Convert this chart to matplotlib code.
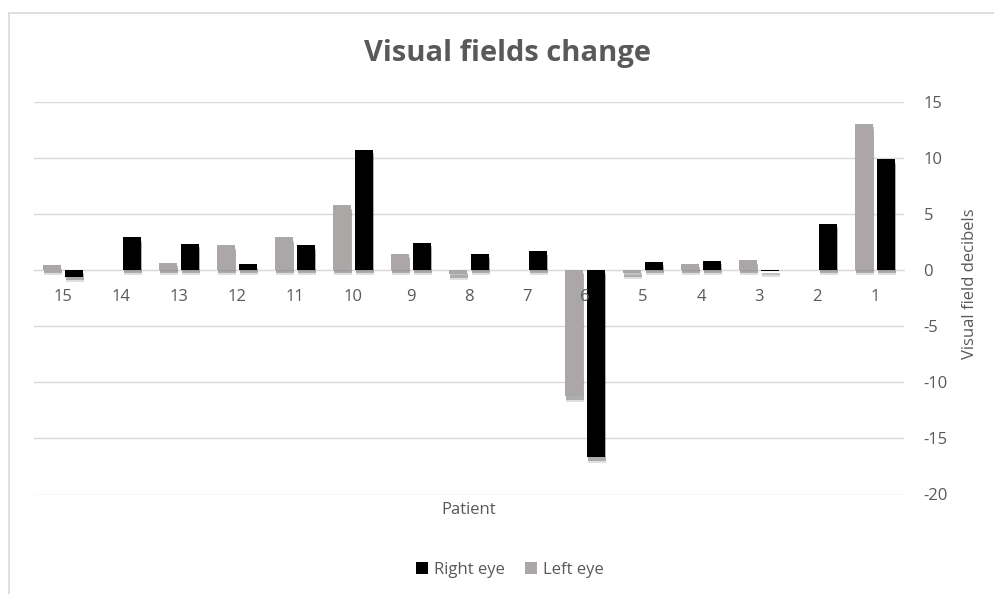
import numpy as np
import matplotlib
matplotlib.use("Agg")
import matplotlib.pyplot as plt
import matplotlib.patheffects as pe
from matplotlib.patches import Rectangle, Patch

plt.rcParams['font.family'] = ['Open Sans', 'DejaVu Sans']
plt.rcParams['axes.unicode_minus'] = False

# patients ordered as on the chart, 15 on the left down to 1 on the right
patients = ["15", "14", "13", "12", "11", "10", "9", "8", "7", "6", "5", "4", "3", "2", "1"]
left_eye = [0.4, 0.0, 0.65, 2.2, 2.9, 5.75, 1.45, -0.4, 0.0, -11.25, -0.3, 0.55, 0.85, 0.0, 13.0]
right_eye = [-0.6, 2.9, 2.35, 0.5, 2.2, 10.7, 2.4, 1.45, 1.65, -16.7, 0.75, 0.8, -0.1, 4.1, 9.85]

TXT = "#595959"
GRID = "#d9d9d9"

fig = plt.figure(figsize=(9.95, 5.94), dpi=100)
ax = fig.add_axes([34 / 995, 1 - 494.5 / 594, 870 / 995, 393 / 594])

x = np.arange(len(patients))
w = 0.31
off = 0.19
# soft drop shadow under each bar, two layers to fake a blur
shadow = [pe.SimplePatchShadow(offset=(0.5, -4), shadow_rgbFace="#808080", alpha=0.25),
          pe.SimplePatchShadow(offset=(0.5, -2.5), shadow_rgbFace="#505050", alpha=0.35),
          pe.Normal()]

ax.bar(x - off, left_eye, w, color="#aba7a7", path_effects=shadow, zorder=2, label="Left eye")
ax.bar(x + off, right_eye, w, color="black", path_effects=shadow, zorder=2, label="Right eye")

ax.set_xlim(-0.5, len(patients) - 0.5)
ax.set_ylim(-20, 15)
ax.set_yticks(np.arange(-20, 16, 5))
ax.yaxis.tick_right()
ax.grid(axis="y", color=GRID, linewidth=1)
ax.set_axisbelow(True)

ax.set_xticks(x)
ax.set_xticklabels(patients)
ax.spines["bottom"].set_position(("data", 0))
ax.spines["bottom"].set_color(GRID)
ax.spines["bottom"].set_zorder(1)
for s in ["top", "left", "right"]:
    ax.spines[s].set_visible(False)
ax.tick_params(axis="x", length=0, pad=14, labelsize=12, labelcolor=TXT)
ax.tick_params(axis="y", length=0, pad=14, labelsize=12, labelcolor=TXT)
ax.xaxis.set_zorder(3)

fig.text(507 / 995, 1 - 53 / 594, "Visual fields change", ha="center", va="center",
         fontsize=21, fontweight="bold", color=TXT)
fig.text(469 / 995, 1 - 510 / 594, "Patient", ha="center", va="center", fontsize=12, color=TXT)
fig.text(970 / 995, 1 - 284 / 594, "Visual field decibels", ha="center", va="center",
         rotation=90, fontsize=12, color=TXT)

handles = [Patch(facecolor="black", label="Right eye"), Patch(facecolor="#aba7a7", label="Left eye")]
fig.legend(handles=handles, loc="center", bbox_to_anchor=(510 / 995, 1 - 570 / 594), ncol=2,
           frameon=False, fontsize=12, labelcolor=TXT, handlelength=0.7, handleheight=0.7,
           handletextpad=0.4, columnspacing=1.2)

# chart area border
fig.patches.append(Rectangle((9 / 995, -0.1), 1.2, 1.1 - 13 / 594, transform=fig.transFigure,
                             fill=False, edgecolor=GRID, linewidth=1.2))

fig.savefig("out.png", dpi=100)
